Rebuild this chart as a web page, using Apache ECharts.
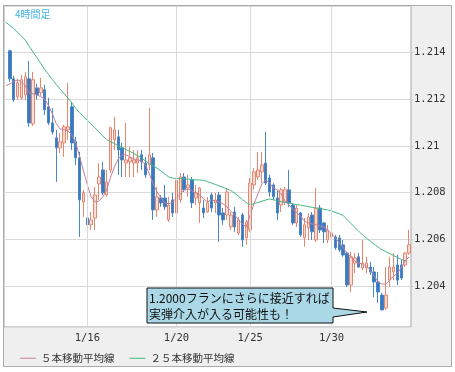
<!DOCTYPE html>
<html>
<head>
<meta charset="utf-8">
<script src="https://cdn.jsdelivr.net/npm/echarts@6/dist/echarts.min.js"></script>
<style>
html,body{margin:0;padding:0;background:#fff;}
#frame{position:absolute;left:3px;top:5px;width:447px;height:360px;background:#efefef;border:1px solid #ababab;}
#chart{position:absolute;left:0;top:0;width:455px;height:372px;}
</style>
</head>
<body>
<div id="frame"></div>
<div id="chart"></div>
<script>
// 4-hour bars (index 0 is an empty slot before the first bar)
const open = [null,
 1.21408,1.21288,1.21211,1.21206,1.21219,1.21288,1.21095,1.21249,1.21228,1.21241,
 1.21168,1.21099,1.21035,1.20992,1.21013,1.21069,1.21168,1.21018,1.20949,1.20760,
 1.20691,1.20662,1.20691,1.20837,1.20897,1.20790,1.20897,1.21026,1.21039,1.20992,
 1.20927,1.20932,1.20927,1.20927,1.20962,1.20927,1.20919,1.20949,1.20726,1.20777,
 1.20777,1.20683,1.20769,1.20713,1.20769,1.20867,1.20820,1.20854,1.20777,1.20756,
 1.20734,1.20717,1.20790,1.20756,1.20790,1.20713,1.20704,1.20653,1.20717,1.20627,
 1.20704,1.20606,1.20640,1.20833,1.20867,1.20889,1.20927,1.20863,1.20833,1.20777,
 1.20747,1.20760,1.20812,1.20747,1.20670,1.20713,1.20606,1.20649,1.20704,1.20597,
 1.20734,1.20670,1.20597,1.20610,1.20610,1.20606,1.20576,1.20541,1.20404,1.20498,
 1.20525,1.20477,1.20477,1.20481,1.20460,1.20417,1.20361,1.20305,1.20425,1.20460,
 1.20490,1.20490,1.20490,1.20541];
const close = [null,
 1.21288,1.21198,1.21271,1.21284,1.21297,1.21099,1.21284,1.21219,1.21249,1.21155,
 1.21099,1.21060,1.20992,1.21018,1.21082,1.21082,1.21013,1.20949,1.20769,1.20799,
 1.20662,1.20683,1.20790,1.20867,1.20799,1.20846,1.21078,1.21069,1.20983,1.20940,
 1.20940,1.20949,1.20940,1.20949,1.20932,1.20876,1.20962,1.20726,1.20782,1.20756,
 1.20739,1.20747,1.20713,1.20854,1.20867,1.20812,1.20833,1.20756,1.20799,1.20820,
 1.20713,1.20756,1.20734,1.20769,1.20704,1.20683,1.20803,1.20704,1.20653,1.20683,
 1.20597,1.20674,1.20841,1.20889,1.20897,1.20919,1.20841,1.20803,1.20782,1.20713,
 1.20812,1.20812,1.20756,1.20670,1.20734,1.20619,1.20662,1.20696,1.20632,1.20734,
 1.20640,1.20632,1.20640,1.20627,1.20563,1.20555,1.20533,1.20404,1.20525,1.20520,
 1.20481,1.20498,1.20498,1.20460,1.20417,1.20374,1.20297,1.20361,1.20481,1.20481,
 1.20425,1.20434,1.20541,1.20576];
const low = [null,
 1.21275,1.21189,1.21198,1.21198,1.21198,1.21082,1.21086,1.21198,1.21215,1.21133,
 1.21090,1.21048,1.20846,1.20970,1.20953,1.21026,1.20983,1.20919,1.20610,1.20696,
 1.20640,1.20640,1.20640,1.20769,1.20790,1.20782,1.20884,1.20983,1.20876,1.20867,
 1.20867,1.20867,1.20867,1.20884,1.20897,1.20863,1.20897,1.20683,1.20696,1.20739,
 1.20726,1.20674,1.20696,1.20696,1.20756,1.20803,1.20782,1.20734,1.20747,1.20670,
 1.20691,1.20713,1.20717,1.20713,1.20589,1.20662,1.20683,1.20640,1.20632,1.20619,
 1.20568,1.20576,1.20632,1.20812,1.20854,1.20841,1.20833,1.20782,1.20769,1.20683,
 1.20717,1.20747,1.20739,1.20662,1.20653,1.20610,1.20568,1.20597,1.20597,1.20589,
 1.20627,1.20584,1.20584,1.20589,1.20555,1.20546,1.20525,1.20395,1.20374,1.20455,
 1.20477,1.20468,1.20455,1.20447,1.20352,1.20327,1.20297,1.20297,1.20395,1.20425,
 1.20404,1.20425,1.20481,1.20533];
const high = [null,
 1.21413,1.21301,1.21288,1.21305,1.21318,1.21365,1.21318,1.21267,1.21292,1.21262,
 1.21206,1.21163,1.21069,1.21056,1.21090,1.21271,1.21189,1.21039,1.20975,1.20812,
 1.20726,1.20717,1.20824,1.20927,1.20932,1.20897,1.21082,1.21125,1.21069,1.21013,
 1.21099,1.20996,1.20983,1.20983,1.20983,1.20953,1.21163,1.20970,1.20824,1.20790,
 1.20833,1.20782,1.20799,1.20884,1.20884,1.20884,1.20876,1.20867,1.20833,1.20824,
 1.20769,1.20782,1.20799,1.20799,1.20803,1.20734,1.20820,1.20717,1.20739,1.20696,
 1.20713,1.20683,1.20863,1.20906,1.20975,1.20975,1.21060,1.20876,1.20841,1.20812,
 1.20820,1.20824,1.20897,1.20756,1.20747,1.20717,1.20691,1.20713,1.20717,1.20820,
 1.20747,1.20674,1.20662,1.20653,1.20619,1.20619,1.20597,1.20546,1.20546,1.20541,
 1.20541,1.20597,1.20525,1.20503,1.20481,1.20460,1.20370,1.20481,1.20525,1.20541,
 1.20533,1.20511,1.20546,1.20640];
const ma5 = [
 1.21258,1.21266,1.21275,1.21284,1.21275,1.21258,1.21228,1.21224,1.21219,1.21211,
 1.21202,1.21172,1.21138,1.21095,1.21073,1.21069,1.21065,1.21048,1.21013,1.20957,
 1.20893,1.20833,1.20782,1.20760,1.20764,1.20782,1.20812,1.20867,1.20910,1.20945,
 1.20962,1.20962,1.20953,1.20945,1.20940,1.20936,1.20919,1.20880,1.20837,1.20803,
 1.20777,1.20756,1.20752,1.20760,1.20777,1.20794,1.20812,1.20816,1.20807,1.20799,
 1.20790,1.20773,1.20760,1.20769,1.20764,1.20760,1.20752,1.20739,1.20721,1.20704,
 1.20683,1.20666,1.20653,1.20704,1.20752,1.20794,1.20837,1.20854,1.20841,1.20820,
 1.20812,1.20794,1.20764,1.20747,1.20730,1.20713,1.20700,1.20678,1.20670,1.20666,
 1.20662,1.20657,1.20653,1.20640,1.20623,1.20606,1.20584,1.20563,1.20541,1.20524,
 1.20507,1.20498,1.20494,1.20485,1.20468,1.20442,1.20417,1.20408,1.20408,1.20425,
 1.20442,1.20455,1.20477,1.20507,1.20524];
const ma25 = [
 1.21530,1.21517,1.21503,1.21487,1.21471,1.21453,1.21428,1.21403,1.21378,1.21354,
 1.21328,1.21306,1.21284,1.21263,1.21243,1.21224,1.21205,1.21185,1.21162,1.21143,
 1.21127,1.21110,1.21094,1.21077,1.21060,1.21043,1.21027,1.21018,1.21010,1.21001,
 1.20993,1.20985,1.20976,1.20968,1.20958,1.20948,1.20936,1.20924,1.20915,1.20904,
 1.20893,1.20880,1.20867,1.20862,1.20861,1.20861,1.20859,1.20858,1.20856,1.20855,
 1.20854,1.20853,1.20847,1.20841,1.20835,1.20829,1.20823,1.20816,1.20809,1.20797,
 1.20785,1.20770,1.20757,1.20748,1.20753,1.20758,1.20763,1.20768,1.20773,1.20769,
 1.20766,1.20761,1.20758,1.20755,1.20752,1.20749,1.20746,1.20743,1.20740,1.20737,
 1.20734,1.20731,1.20729,1.20726,1.20721,1.20715,1.20709,1.20702,1.20685,1.20668,
 1.20651,1.20635,1.20618,1.20605,1.20592,1.20579,1.20567,1.20555,1.20547,1.20539,
 1.20530,1.20522,1.20514,1.20508,null];
const dateLabels = ['1/16', '1/20', '1/25', '1/30'];
const dateLabelBars = [21, 44, 63, 84];
const seriesNames = ['５本移動平均線', '２５本移動平均線'];
const titleText = '4時間足';
const noteLines = ['1.2000フランにさらに接近すれば', '実弾介入が入る可能性も！'];

const categories = open.map((_, i) => String(i));
const candleData = open.map((o, i) => o == null ? ['-', '-', '-', '-'] : [o, close[i], low[i], high[i]]);
const labelMap = {};
dateLabelBars.forEach((b, i) => { labelMap[b] = dateLabels[i]; });

const chart = echarts.init(document.getElementById('chart'), null, {renderer: 'canvas'});
const mono = 'DejaVu Sans Mono';
const jp = '"Noto Sans CJK JP", sans-serif';
chart.setOption({
  animation: false,
  backgroundColor: 'transparent',
  grid: {left: 4, top: 6, right: 44, bottom: 45, show: true, backgroundColor: '#ffffff', borderColor: '#a8a8a8', borderWidth: 1},
  xAxis: {
    type: 'category', data: categories, boundaryGap: true,
    axisLine: {show: false}, axisTick: {show: false}, splitLine: {show: false},
    axisLabel: {
      interval: (idx) => labelMap[idx] !== undefined,
      formatter: (v, idx) => labelMap[idx] || '',
      margin: 6, fontFamily: mono, fontSize: 10.5, color: '#333'
    }
  },
  yAxis: {
    type: 'value', position: 'right', min: 1.20224, max: 1.216, splitNumber: 7, scale: true,
    axisLine: {show: false},
    axisTick: {show: true, length: 2, lineStyle: {color: '#c8c8c8'}},
    splitLine: {show: true, lineStyle: {color: '#dadada', width: 1}},
    axisLabel: {showMaxLabel: false, showMinLabel: false, margin: 3, fontFamily: mono, fontSize: 10.5, color: '#333'}
  },
  legend: {
    left: 15, top: 348, itemWidth: 16, itemHeight: 1, itemGap: 15, icon: 'rect',
    data: seriesNames,
    textStyle: {fontFamily: jp, fontSize: 10.5, color: '#333', padding: [0, 0, 0, 0]}
  },
  series: [
    {
      type: 'candlestick', name: 'EURCHF', data: candleData, barWidth: 3,
      itemStyle: {color: '#f9ddd6', borderColor: '#e5866f', color0: '#3a79bf', borderColor0: '#4a85c6', borderWidth: 1},
      markLine: {
        silent: true, symbol: ['none', 'none'], label: {show: false},
        lineStyle: {color: '#dadada', type: 'solid', width: 1},
        data: dateLabelBars.map(b => ({xAxis: categories[b]}))
      },
      z: 2
    },
    {type: 'line', name: seriesNames[0], data: ma5, showSymbol: false, symbol: 'none', lineStyle: {color: '#c2809a', width: 1}, itemStyle: {color: '#c2809a'}, z: 4},
    {type: 'line', name: seriesNames[1], data: ma25, showSymbol: false, symbol: 'none', lineStyle: {color: '#45b883', width: 1}, itemStyle: {color: '#45b883'}, z: 3}
  ],
  graphic: [
    {type: 'text', left: 15, top: 9, style: {text: titleText, fill: '#3fb2e2', font: '10px ' + jp}, z: 10},
    {type: 'polygon', z: 10,
      shape: {points: [[147, 288], [333, 288], [333, 308], [367, 312], [333, 317], [333, 323], [147, 323]]},
      style: {fill: '#aad8e6', stroke: '#111', lineWidth: 1}},
    {type: 'text', left: 149, top: 290, z: 11, style: {text: noteLines.join('\n'), fill: '#111', font: '12px ' + jp, lineHeight: 16}}
  ]
});
</script>
</body>
</html>
